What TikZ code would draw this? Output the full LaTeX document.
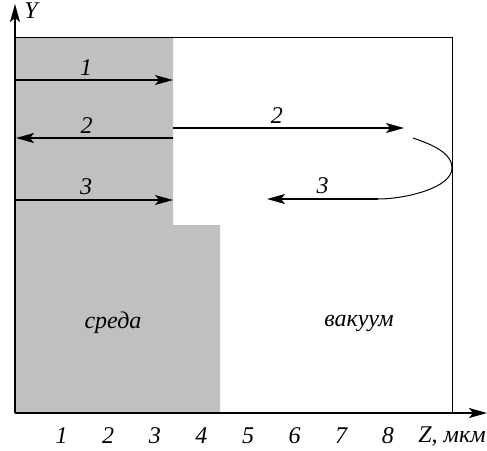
\documentclass[tikz,border=0pt]{standalone}
\usepackage{fontspec}
\setmainfont{Liberation Serif}[ItalicFont={Liberation Serif Italic}]
\usetikzlibrary{arrows.meta}
\definecolor{medium}{RGB}{192,192,192}

\begin{document}
\begin{tikzpicture}[x=0.5pt, y=-0.5pt, >={Stealth[length=9pt, width=5pt, inset=2pt]},
        ray/.style={->, line width=0.8pt},
        raylabel/.style={font=\fontsize{12}{14}\selectfont\itshape, inner sep=2pt},
        tick/.style={font=\fontsize{12}{14}\selectfont\itshape}]
    \useasboundingbox (0,0) rectangle (487,450);
    % medium and frame
    \fill[medium] (15,37) -- (173,37) -- (173,225) -- (220,225) -- (220,413) -- (15,413) -- cycle;
    \draw[line width=0.5pt] (15,37) -- (452,37) -- (452,413);
    % axes
    \coordinate (origin) at (15,413);
    \coordinate (ytip) at (15,4);
    \coordinate (ztip) at (487,413);
    \draw[->, line width=0.8pt] (origin) -- (ytip);
    \draw[->, line width=0.8pt] (origin) -- (ztip);
    \node[tick] (ylabel) at (31,11) {Y};
    \foreach \n in {1,...,8}
        \node[tick] (z\n) at (15+46.6*\n,436) {\n};
    \node[tick] (zlabel) at (452,436) {Z, мкм};
    % rays
    \coordinate (a1) at (15,80);
    \coordinate (b1) at (173,80);
    \coordinate (a2) at (173,138);
    \coordinate (b2) at (16,138);
    \coordinate (c2) at (173,128);
    \coordinate (d2) at (404,128);
    \coordinate (e2) at (413,138);
    \coordinate (turn) at (452,168);
    \coordinate (e3) at (378,199);
    \coordinate (d3) at (267,199);
    \coordinate (a3) at (15,200);
    \coordinate (b3) at (173,200);
    \draw[ray] (a1) -- node[raylabel, above, pos=0.45]{1} (b1);
    \draw[ray] (a2) -- node[raylabel, above, pos=0.55]{2} (b2);
    \draw[ray] (c2) -- node[raylabel, above, pos=0.45]{2} (d2);
    \draw[line width=0.5pt] (e2) .. controls (440,147) and (452,156) .. (turn)
        .. controls (452,188) and (405,199) .. (e3);
    \draw[ray] (e3) -- node[raylabel, above, pos=0.5]{3} (d3);
    \draw[ray] (a3) -- node[raylabel, above, pos=0.45]{3} (b3);
    % regions
    \node[tick] (sreda) at (113,323) {среда};
    \node[tick] (vakuum) at (359,323) {вакуум};
\end{tikzpicture}
\end{document}
